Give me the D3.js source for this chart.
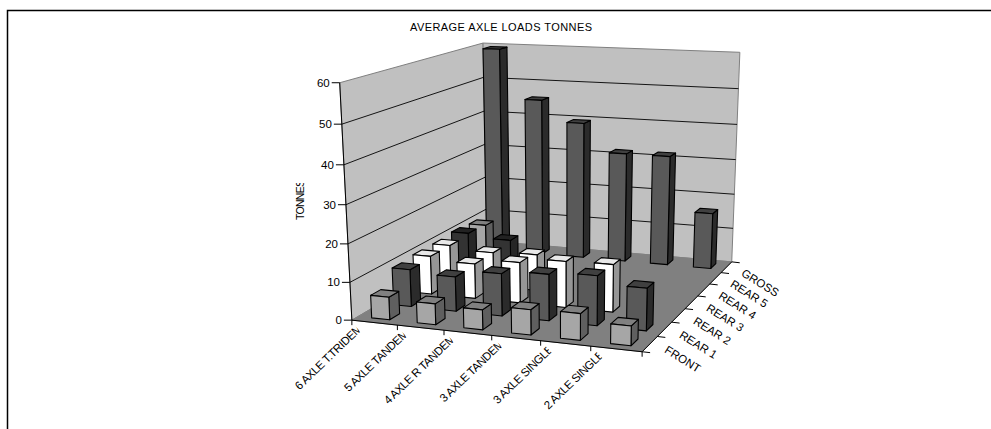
<!DOCTYPE html>
<html>
<head>
<meta charset="utf-8">
<script src="https://cdn.jsdelivr.net/npm/d3@7"></script>
<style>
  html, body { margin: 0; padding: 0; background: #fff; }
  svg { display: block; }
  text { font-family: "Liberation Sans", Arial, sans-serif; fill: #000; }
</style>
</head>
<body>
<script>
const width = 991;
const height = 429;

const title = "AVERAGE AXLE LOADS TONNES";
const yTitle = "TONNES";
const categories = ["6 AXLE T.TRIDEM", "5 AXLE TANDEM", "4 AXLE R TANDEM", "3 AXLE TANDEM", "3 AXLE SINGLE", "2 AXLE SINGLE"];
const seriesNames = ["FRONT", "REAR 1", "REAR 2", "REAR 3", "REAR 4", "REAR 5", "GROSS"];
const yTicks = [0, 10, 20, 30, 40, 50, 60];

// values per series, same order as categories
const front = [6, 5.5, 5.2, 6.5, 6.8, 5];
const rear1 = [10, 9.2, 11.2, 12.2, 13, 11];
const rear2 = [10.5, 9.5, 11, 12.4, 12.7, null];
const rear3 = [10.5, 9.5, 10, null, null, null];
const rear4 = [11, 10, null, null, null, null];
const rear5 = [10.5, null, null, null, null, null];
const gross = [59.5, 45.5, 39.5, 31.5, 31.5, 16];
const seriesValues = [front, rear1, rear2, rear3, rear4, rear5, gross];

// face colours per series: front, top, side
const faces = [
  ["#a6a6a6", "#808080", "#5f5f5f"],
  ["#595959", "#404040", "#2b2b2b"],
  ["#ffffff", "#e8e8e8", "#969696"],
  ["#ffffff", "#e8e8e8", "#969696"],
  ["#333333", "#222222", "#262626"],
  ["#a6a6a6", "#808080", "#5f5f5f"],
  ["#595959", "#404040", "#2b2b2b"]
];

// where the corners of the plot box land on screen, [u, v, w] -> [x, y]
const boxCorners = [
  [[0, 0, 0], [351.7, 319.3]],
  [[1, 0, 0], [642, 352.7]],
  [[1, 1, 0], [731.7, 260.7]],
  [[0, 1, 0], [487, 242]],
  [[0, 0, 1], [340, 82.7]],
  [[0, 1, 1], [482.7, 42.7]],
  [[1, 1, 1], [740, 52.7]]
];

// fit a 3x4 camera matrix to the corners (least squares, p34 = 1)
function fitCamera(pairs) {
  const rows = [], rhs = [];
  pairs.forEach(([[X, Y, Z], [x, y]]) => {
    rows.push([X, Y, Z, 1, 0, 0, 0, 0, -x * X, -x * Y, -x * Z]); rhs.push(x);
    rows.push([0, 0, 0, 0, X, Y, Z, 1, -y * X, -y * Y, -y * Z]); rhs.push(y);
  });
  const n = 11;
  const A = d3.range(n).map(i => d3.range(n + 1).map(j =>
    j < n ? d3.sum(rows, (r) => r[i] * r[j]) : d3.sum(rows, (r, k) => r[i] * rhs[k])));
  for (let c = 0; c < n; c++) {
    let p = c;
    for (let r = c + 1; r < n; r++) if (Math.abs(A[r][c]) > Math.abs(A[p][c])) p = r;
    [A[c], A[p]] = [A[p], A[c]];
    for (let r = 0; r < n; r++) {
      if (r === c) continue;
      const f = A[r][c] / A[c][c];
      for (let j = c; j <= n; j++) A[r][j] -= f * A[c][j];
    }
  }
  return A.map((r, i) => r[n] / r[i]);
}
const cam = fitCamera(boxCorners);
const project = (u, v, w) => {
  const d = cam[8] * u + cam[9] * v + cam[10] * w + 1;
  return [
    (cam[0] * u + cam[1] * v + cam[2] * w + cam[3]) / d,
    (cam[4] * u + cam[5] * v + cam[6] * w + cam[7]) / d
  ];
};

const xBand = d3.scaleBand().domain(categories).range([0, 1]).paddingInner(0.6).paddingOuter(0.3);
const depthBand = d3.scaleBand().domain(seriesNames).range([0, 1]).paddingInner(0.55).paddingOuter(0.275);
const zScale = d3.scaleLinear().domain([0, 60]).range([0, 1]);

const poly = d3.line().curve(d3.curveLinearClosed);
const seg = d3.line();

const svg = d3.select("body").append("svg").attr("width", width).attr("height", height);

// frame: only top and left show in the picture
svg.append("path").attr("d", `M991,10.5H7.5V429`).attr("fill", "none").attr("stroke", "#000").attr("stroke-width", 1.5);

svg.append("text").attr("x", 410).attr("y", 31).attr("font-size", 11)
  .attr("textLength", 182).attr("lengthAdjust", "spacing").text(title);

// walls and floor
const walls = [
  {pts: [[0, 0, 0], [0, 1, 0], [0, 1, 1], [0, 0, 1]], fill: "#c0c0c0"},
  {pts: [[0, 1, 0], [1, 1, 0], [1, 1, 1], [0, 1, 1]], fill: "#c0c0c0"},
  {pts: [[0, 0, 0], [1, 0, 0], [1, 1, 0], [0, 1, 0]], fill: "#808080"}
];
svg.append("g").selectAll("path").data(walls).join("path")
  .attr("d", d => poly(d.pts.map(p => project(...p))))
  .attr("fill", d => d.fill)
  .attr("stroke", "#808080").attr("stroke-width", 1);

// gridlines on the two walls
const grid = svg.append("g").attr("stroke", "#000").attr("stroke-width", 0.9).attr("fill", "none");
grid.selectAll("path").data(yTicks.filter(t => t > 0 && t < 60)).join("path")
  .attr("d", t => seg([project(0, 0, zScale(t)), project(0, 1, zScale(t)), project(1, 1, zScale(t))]));

// black edges
const edges = [
  [[0, 0, 0], [0, 0, 1]],
  [[0, 0, 0], [1, 0, 0]],
  [[1, 0, 0], [1, 1, 0]]
];
svg.append("g").selectAll("path").data(edges).join("path")
  .attr("d", d => seg(d.map(p => project(...p))))
  .attr("stroke", "#000").attr("stroke-width", 1).attr("fill", "none");

// bars, back row first
const bars = [];
seriesNames.forEach((s, si) => categories.forEach((c, ci) => {
  const value = seriesValues[si][ci];
  if (value != null) bars.push({s, si, c, ci, value});
}));
bars.sort((a, b) => b.si - a.si || a.ci - b.ci);

const barG = svg.append("g").selectAll("g").data(bars).join("g")
  .attr("stroke", "#000").attr("stroke-width", 1.1).attr("stroke-linejoin", "round");
const barFaces = d => {
  const u0 = xBand(d.c), u1 = u0 + xBand.bandwidth();
  const v0 = depthBand(d.s), v1 = v0 + depthBand.bandwidth();
  const w = zScale(d.value);
  return [
    {pts: [[u1, v0, 0], [u1, v1, 0], [u1, v1, w], [u1, v0, w]], fill: faces[d.si][2]},
    {pts: [[u0, v0, w], [u1, v0, w], [u1, v1, w], [u0, v1, w]], fill: faces[d.si][1]},
    {pts: [[u0, v0, 0], [u1, v0, 0], [u1, v0, w], [u0, v0, w]], fill: faces[d.si][0]}
  ];
};
barG.selectAll("path").data(barFaces).join("path")
  .attr("d", f => poly(f.pts.map(p => project(...p))))
  .attr("fill", f => f.fill);

// y axis
const yAxis = svg.append("g");
const yTick = yAxis.selectAll("g").data(yTicks).join("g")
  .attr("transform", t => `translate(${project(0, 0, zScale(t))})`);
yTick.append("line").attr("x1", -8).attr("x2", 0).attr("stroke", "#000");
yTick.append("text").attr("x", -10).attr("dy", "0.35em").attr("text-anchor", "end")
  .attr("font-size", 11.5).text(t => t);

// x axis ticks on band edges
const xStep = xBand.step();
svg.append("g").selectAll("line").data(d3.range(categories.length + 1)).join("line")
  .each(function(i) {
    const p = project(i * xStep, 0, 0);
    d3.select(this).attr("x1", p[0]).attr("y1", p[1]).attr("x2", p[0]).attr("y2", p[1] + 5);
  })
  .attr("stroke", "#000");

// depth axis ticks on band edges
const dStep = depthBand.step();
svg.append("g").selectAll("line").data(d3.range(seriesNames.length + 1)).join("line")
  .each(function(i) {
    const p = project(1, i * dStep, 0);
    d3.select(this).attr("x1", p[0]).attr("y1", p[1]).attr("x2", p[0] + 8).attr("y2", p[1] + 0.9);
  })
  .attr("stroke", "#000");

// labels, category text gets cut off at its end like the original
const defs = svg.append("defs");
defs.append("clipPath").attr("id", "catClip").append("rect")
  .attr("x", -200).attr("y", -20).attr("width", 200).attr("height", 40);
defs.append("clipPath").attr("id", "yTitleClip").append("rect")
  .attr("x", 0).attr("y", -20).attr("width", 37).attr("height", 40);

svg.append("g").selectAll("g").data(categories).join("g")
  .attr("transform", c => {
    const p = project(xBand(c) + xBand.bandwidth() / 2, 0, 0);
    return `translate(${p[0] - 14},${p[1] + 9}) rotate(-44)`;
  })
  .attr("clip-path", "url(#catClip)")
  .append("text").attr("x", 3).attr("text-anchor", "end").attr("font-size", 11.5)
  .attr("letter-spacing", -0.45).text(c => c);

svg.append("g").selectAll("text").data(seriesNames).join("text")
  .attr("transform", s => {
    const p = project(1, depthBand(s) + depthBand.bandwidth() / 2, 0);
    return `translate(${p[0] + 14},${p[1] + 8}) rotate(32)`;
  })
  .attr("font-size", 11.5).text(s => s);

svg.append("g").attr("transform", "translate(304,220) rotate(-90)")
  .attr("clip-path", "url(#yTitleClip)")
  .append("text").attr("font-size", 10.5).attr("letter-spacing", -0.7).text(yTitle);
</script>
</body>
</html>
